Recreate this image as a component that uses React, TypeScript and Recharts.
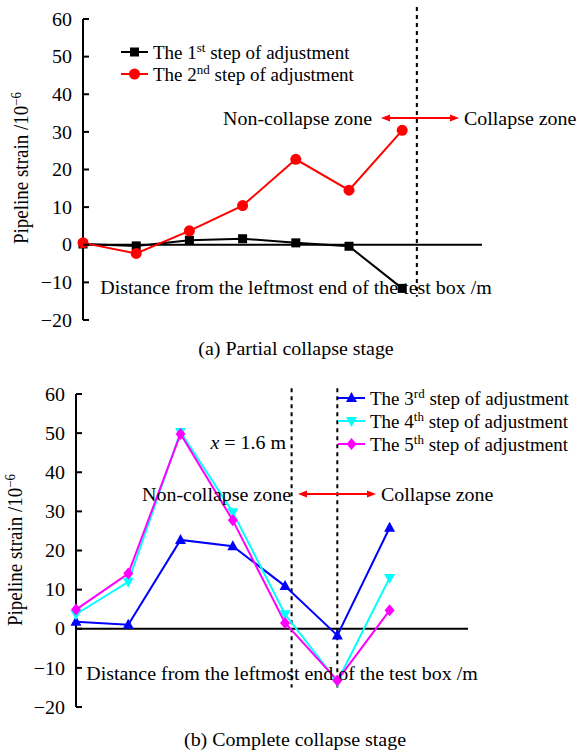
import React from 'react';
import { LineChart, Line, XAxis, YAxis, ReferenceLine } from 'recharts';

const FONT = "'Liberation Serif', 'Times New Roman', Times, serif";
const FS = 19;
const SX = 1.05; // the source figure is slightly stretched horizontally

// measurement positions along the box (m)
const X_POS = [0, 0.4, 0.8, 1.2, 1.6, 2.0, 2.4];
const X_TICKS = [0, 0.5, 1.0, 1.5, 2.0, 2.5, 3.0];
const Y_TICKS = [-20, -10, 0, 10, 20, 30, 40, 50, 60];

// (a) partial collapse
const STEP1 = [0.2, -0.3, 1.2, 1.6, 0.5, -0.4, -11.6];
const STEP2 = [0.5, -2.3, 3.7, 10.4, 22.7, 14.5, 30.4];
// (b) complete collapse
const STEP3 = [1.8, 1.0, 22.7, 21.1, 10.9, -1.7, 25.8];
const STEP4 = [3.7, 12.0, 50.3, 29.8, 3.7, -13.5, 13.0];
const STEP5 = [4.9, 14.1, 49.8, 27.7, 1.5, -13.2, 4.7];

const BOUNDARY_A = 2.51;
const BOUNDARY_B = [1.65, 2.0];

const dataA = X_POS.map((x, i) => ({ x, s1: STEP1[i], s2: STEP2[i] }));
const dataB = X_POS.map((x, i) => ({ x, s3: STEP3[i], s4: STEP4[i], s5: STEP5[i] }));

const minus = (v: number) => String(v).replace('-', '\u2212');

const fontStyle = { fontFamily: FONT, fontSize: FS } as const;

// horizontally stretched text
const T = ({ x, y, anchor = 'start', sx = SX, children }: any) => (
  <text transform={`translate(${x},${y}) scale(${sx},1)`} x={0} y={0} dy="0.35em" textAnchor={anchor} style={fontStyle} fill="#000">
    {children}
  </text>
);

const makeYTick = () => (p: any) => (
  <g>
    <line x1={p.x} y1={p.y} x2={p.x + 6} y2={p.y} stroke="#000" strokeWidth={2} />
    <T x={p.x - 11} y={p.y} anchor="end">{minus(p.payload.value)}</T>
  </g>
);

// x axis sits at y = 0, so ticks are moved up from the plot bottom
const makeXTick = (zeroUp: number) => (p: any) => {
  const y0 = p.y - zeroUp;
  return (
    <g>
      <line x1={p.x} y1={y0} x2={p.x} y2={y0 - 6} stroke="#000" strokeWidth={2} />
      <T x={p.x} y={y0 + 16} anchor="middle">{p.payload.value.toFixed(1)}</T>
    </g>
  );
};

const Square = (color: string) => (p: any) => (
  <rect key={p.index} x={p.cx - 4.5} y={p.cy - 4.5} width={9} height={9} fill={color} />
);
const Circle = (color: string) => (p: any) => <circle key={p.index} cx={p.cx} cy={p.cy} r={5.5} fill={color} />;
const TriUp = (color: string) => (p: any) => (
  <polygon key={p.index} points={`${p.cx},${p.cy - 6} ${p.cx - 5.5},${p.cy + 4} ${p.cx + 5.5},${p.cy + 4}`} fill={color} />
);
const TriDown = (color: string) => (p: any) => (
  <polygon key={p.index} points={`${p.cx},${p.cy + 6} ${p.cx - 5.5},${p.cy - 4} ${p.cx + 5.5},${p.cy - 4}`} fill={color} />
);
const Diamond = (color: string) => (p: any) => (
  <polygon key={p.index} points={`${p.cx},${p.cy - 6} ${p.cx + 5},${p.cy} ${p.cx},${p.cy + 6} ${p.cx - 5},${p.cy}`} fill={color} />
);

const Sup = ({ base, sup, rest }: { base: string; sup: string; rest: string }) => (
  <>
    {base}
    <tspan dy={-7} style={{ fontSize: 13 }}>{sup}</tspan>
    <tspan dy={7}>{rest}</tspan>
  </>
);

const Arrow = ({ x1, x2, y }: { x1: number; x2: number; y: number }) => (
  <g>
    <line x1={x1 + 6} y1={y} x2={x2 - 6} y2={y} stroke="#ff0000" strokeWidth={2} />
    <polygon points={`${x1},${y} ${x1 + 9},${y - 3.5} ${x1 + 9},${y + 3.5}`} fill="#ff0000" />
    <polygon points={`${x2},${y} ${x2 - 9},${y - 3.5} ${x2 - 9},${y + 3.5}`} fill="#ff0000" />
  </g>
);

const LegendRow = ({ y, color, marker, children }: any) => (
  <g>
    <line x1={0} y1={y} x2={27} y2={y} stroke={color} strokeWidth={2} />
    {marker({ cx: 13.5, cy: y, index: 0 })}
    <T x={32} y={y} sx={1}>{children}</T>
  </g>
);

const YTitle = ({ x, y }: { x: number; y: number }) => (
  <text transform={`translate(${x},${y}) rotate(-90) scale(1,${SX})`} textAnchor="middle" dy="0.35em" style={fontStyle} fill="#000">
    <Sup base="Pipeline strain /10" sup={'\u22126'} rest="" />
  </text>
);

export default function App() {
  // panel (a): plot 83..482 x 19..320
  const plotHA = 301;
  // panel (b): plot 76..468 x 394..707
  const plotHB = 313;
  return (
    <div style={{ position: 'absolute', left: 0, top: 0, width: 577, height: 752, background: '#fff', fontFamily: FONT, overflow: 'hidden' }}>
      <div style={{ position: 'absolute', left: 0, top: 0 }}>
        <LineChart width={577} height={340} data={dataA} margin={{ top: 19, right: 95, left: 43, bottom: 20 }}>
          <XAxis type="number" dataKey="x" domain={[0, 3]} ticks={X_TICKS} interval={0} height={0}
            axisLine={false} tickLine={false} tickSize={0} tickMargin={0} tick={makeXTick(plotHA * 20 / 80)} />
          <YAxis type="number" domain={[-20, 60]} ticks={Y_TICKS} interval={0} width={40}
            axisLine={{ stroke: '#000', strokeWidth: 2 }} tickLine={false} tickSize={0} tickMargin={0} tick={makeYTick()} />
          <ReferenceLine y={0} stroke="#000" strokeWidth={2} />
          <ReferenceLine segment={[{ x: BOUNDARY_A, y: 63.2 }, { x: BOUNDARY_A, y: -13.8 }]} ifOverflow="visible"
            stroke="#000" strokeWidth={2} strokeDasharray="4 4" />
          <Line type="linear" dataKey="s1" stroke="#000" strokeWidth={2} dot={Square('#000')} isAnimationActive={false} />
          <Line type="linear" dataKey="s2" stroke="#ff0000" strokeWidth={2} dot={Circle('#ff0000')} isAnimationActive={false} />
        </LineChart>
      </div>
      <div style={{ position: 'absolute', left: 0, top: 375 }}>
        <LineChart width={577} height={352} data={dataB} margin={{ top: 19, right: 109, left: 36, bottom: 20 }}>
          <XAxis type="number" dataKey="x" domain={[0, 3]} ticks={X_TICKS} interval={0} height={0}
            axisLine={false} tickLine={false} tickSize={0} tickMargin={0} tick={makeXTick(plotHB * 20 / 80)} />
          <YAxis type="number" domain={[-20, 60]} ticks={Y_TICKS} interval={0} width={40}
            axisLine={{ stroke: '#000', strokeWidth: 2 }} tickLine={false} tickSize={0} tickMargin={0} tick={makeYTick()} />
          <ReferenceLine y={0} stroke="#000" strokeWidth={2} />
          {BOUNDARY_B.map((b) => (
            <ReferenceLine key={b} segment={[{ x: b, y: 61.5 }, { x: b, y: -15 }]} ifOverflow="visible"
              stroke="#000" strokeWidth={2} strokeDasharray="4 4" />
          ))}
          <Line type="linear" dataKey="s3" stroke="#0000ff" strokeWidth={2} dot={TriUp('#0000ff')} isAnimationActive={false} />
          <Line type="linear" dataKey="s4" stroke="#00ffff" strokeWidth={2} dot={TriDown('#00ffff')} isAnimationActive={false} />
          <Line type="linear" dataKey="s5" stroke="#ff00ff" strokeWidth={2} dot={Diamond('#ff00ff')} isAnimationActive={false} />
        </LineChart>
      </div>

      <svg width={577} height={752} style={{ position: 'absolute', left: 0, top: 0, pointerEvents: 'none' }}>
        {/* panel (a) */}
        <YTitle x={21} y={168} />
        <T x={296} y={287} anchor="middle">Distance from the leftmost end of the test box /m</T>
        <T x={296} y={348} anchor="middle">(a) Partial collapse stage</T>
        <g transform="translate(121,0)">
          <LegendRow y={52} color="#000" marker={Square('#000')}><Sup base="The 1" sup="st" rest=" step of adjustment" /></LegendRow>
          <LegendRow y={74} color="#ff0000" marker={Circle('#ff0000')}><Sup base="The 2" sup="nd" rest=" step of adjustment" /></LegendRow>
        </g>
        <T x={372} y={118} anchor="end">Non-collapse zone</T>
        <Arrow x1={381} x2={459} y={118} />
        <T x={464} y={118}>Collapse zone</T>

        {/* panel (b) */}
        <YTitle x={15} y={550} />
        <T x={282} y={673} anchor="middle">Distance from the leftmost end of the test box /m</T>
        <T x={295} y={739} anchor="middle">(b) Complete collapse stage</T>
        <g transform="translate(338,0)">
          <LegendRow y={398} color="#0000ff" marker={TriUp('#0000ff')}><Sup base="The 3" sup="rd" rest=" step of adjustment" /></LegendRow>
          <LegendRow y={421} color="#00ffff" marker={TriDown('#00ffff')}><Sup base="The 4" sup="th" rest=" step of adjustment" /></LegendRow>
          <LegendRow y={444} color="#ff00ff" marker={Diamond('#ff00ff')}><Sup base="The 5" sup="th" rest=" step of adjustment" /></LegendRow>
        </g>
        <T x={286} y={442} anchor="end">
          <tspan style={{ fontStyle: 'italic' }}>x</tspan> = 1.6 m
        </T>
        <T x={291} y={494} anchor="end">Non-collapse zone</T>
        <Arrow x1={298} x2={376} y={494} />
        <T x={381} y={494}>Collapse zone</T>
      </svg>
    </div>
  );
}
